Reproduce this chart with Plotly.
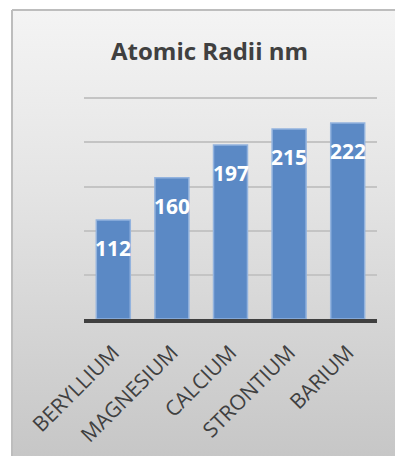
import plotly.graph_objects as go

# Atomic radii of the group 2 elements
elements = ["BERYLLIUM", "MAGNESIUM", "CALCIUM", "STRONTIUM", "BARIUM"]
radii = [112, 160, 197, 215, 222]
y_ticks = [0, 50, 100, 150, 200, 250]

W, H = 395, 456
# plot area in pixels
px_left, px_right = 84, 377
px_top, px_bottom = 96, 319
y_max = 252.5  # headroom so the 250 gridline sits inside the range

fig = go.Figure()

# panel background with a soft vertical gradient (drawn on its own pixel-space axes)
fig.add_trace(go.Scatter(
    x=[12, W + 5, W + 5, 12, 12],
    y=[10, 10, H + 5, H + 5, 10],
    mode="lines",
    fill="toself",
    fillgradient=dict(type="vertical",
                      colorscale=[[0, "#c6c6c6"], [0.6, "#e4e4e4"], [1, "#f4f4f4"]]),
    line=dict(color="#bdbdbd", width=2),
    hoverinfo="skip",
    showlegend=False,
    xaxis="x", yaxis="y",
))

fig.add_trace(go.Bar(
    x=elements,
    y=radii,
    marker=dict(color="#5b89c5", line=dict(color="#93b3de", width=1.5)),
    showlegend=False,
    xaxis="x2", yaxis="y2",
))

for name, r in zip(elements, radii):
    fig.add_annotation(
        x=name, y=r, xref="x2", yref="y2",
        text=str(r), showarrow=False,
        yshift=-28,
        font=dict(family="Open Sans", size=21, color="white", weight="bold"),
    )

fig.add_annotation(
    x=210 / W, y=1 - 51 / H, xref="paper", yref="paper",
    xanchor="center", yanchor="middle",
    text="<b>Atomic Radii nm</b>", showarrow=False,
    font=dict(family="Open Sans", size=24, color="#404040"),
)

fig.update_layout(
    width=W, height=H,
    margin=dict(l=0, r=0, t=0, b=0, autoexpand=False),
    paper_bgcolor="white",
    plot_bgcolor="rgba(0,0,0,0)",
    bargap=0.42,
    xaxis=dict(domain=[0, 1], range=[0, W], visible=False, fixedrange=True, automargin=False),
    yaxis=dict(domain=[0, 1], range=[H, 0], visible=False, fixedrange=True, automargin=False),
    xaxis2=dict(
        domain=[px_left / W, px_right / W], anchor="y2",
        showline=True, linecolor="#404040", linewidth=4,
        tickangle=-45, ticks="", showgrid=False, automargin=False,
        ticklabelstandoff=9,
        tickfont=dict(family="Open Sans", size=21, color="#404040"),
    ),
    yaxis2=dict(
        domain=[1 - px_bottom / H, 1 - px_top / H], anchor="x2",
        range=[0, y_max], tickvals=y_ticks, showticklabels=False,
        showgrid=True, gridcolor="#c4c4c4", gridwidth=2,
        zeroline=False, automargin=False,
    ),
)

fig.write_html("out.html")
